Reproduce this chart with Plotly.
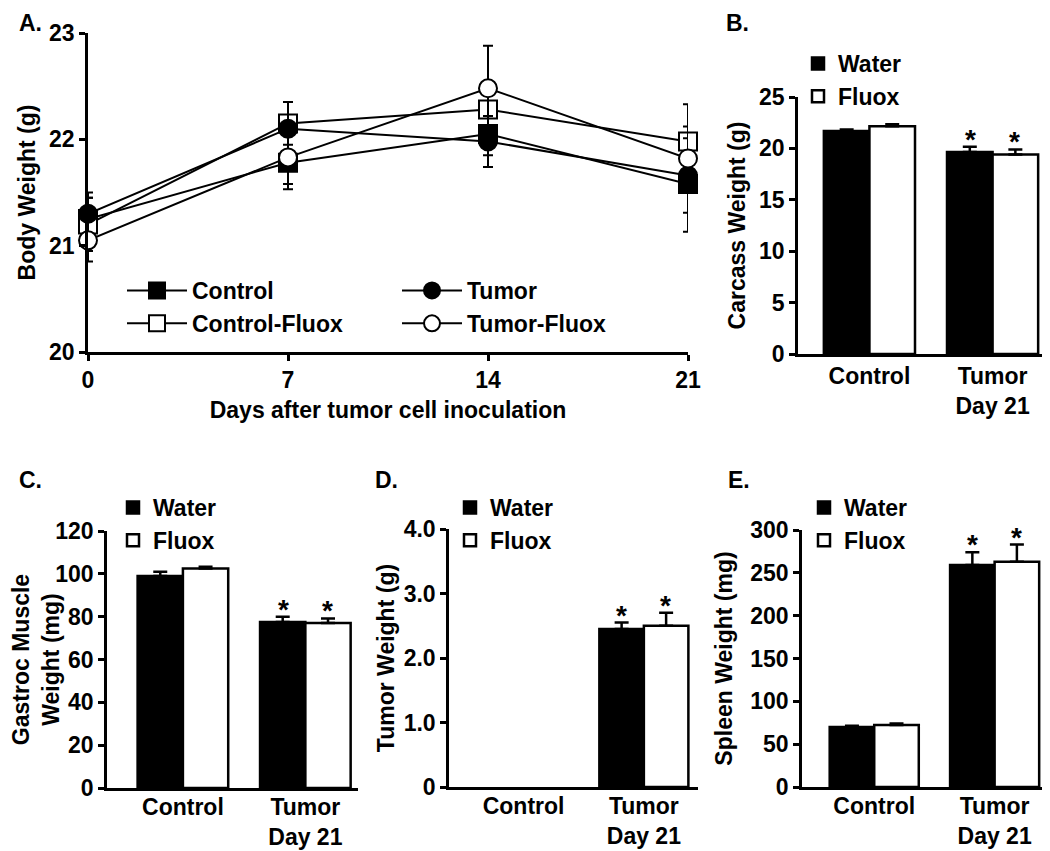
import plotly.graph_objects as go

# ---- panel A: body weight over time ----
days = [0, 7, 14, 21]
control = [21.25, 21.78, 22.05, 21.58]
control_err = [0.2, 0.25, 0.2, 0.45]
control_fluox = [21.2, 22.15, 22.28, 21.98]
control_fluox_err = [0.25, 0.2, 0.2, 0.35]
tumor = [21.3, 22.1, 21.98, 21.66]
tumor_err = [0.2, 0.25, 0.24, 0.35]
tumor_fluox = [21.05, 21.83, 22.48, 21.82]
tumor_fluox_err = [0.2, 0.25, 0.4, 0.3]

# ---- panels B-E: day 21 weights ----
groups = ["Control", "Tumor<br>Day 21"]
carcass_water = [21.7, 19.65]
carcass_water_err = [0.15, 0.5]
carcass_fluox = [22.15, 19.4]
carcass_fluox_err = [0.2, 0.5]
gastroc_water = [99, 77.5]
gastroc_water_err = [2, 2.5]
gastroc_fluox = [102.5, 77]
gastroc_fluox_err = [0.8, 2.2]
tumorwt_water = [None, 2.45]
tumorwt_water_err = [0, 0.1]
tumorwt_fluox = [None, 2.5]
tumorwt_fluox_err = [0, 0.2]
spleen_water = [70, 259]
spleen_water_err = [1.5, 15]
spleen_fluox = [72.5, 263]
spleen_fluox_err = [1.5, 20]

FONT = dict(family="Liberation Sans", size=23, color="black", weight="bold")
LW = 2.5

# the page puts the plot 8px in from the corner, so size the figure to fit the window
W, H, OFF = 1042, 843, 8


def fx(px):
    return (px - OFF) / W


def fy(py):
    return 1 - (py - OFF) / H


fig = go.Figure()

line_series = [
    ("Control", control, control_err, "square", "black", "legend"),
    ("Control-Fluox", control_fluox, control_fluox_err, "square", "white", "legend"),
    ("Tumor", tumor, tumor_err, "circle", "black", "legend2"),
    ("Tumor-Fluox", tumor_fluox, tumor_fluox_err, "circle", "white", "legend2"),
]
for name, vals, err, sym, fill, leg in line_series:
    fig.add_trace(go.Scatter(
        x=days, y=vals, name=name, mode="lines+markers",
        line=dict(color="black", width=2),
        marker=dict(symbol=sym, size=18, color=fill, line=dict(color="black", width=2)),
        error_y=dict(type="data", array=err, color="black", thickness=2, width=5),
        cliponaxis=False, legend=leg, xaxis="x", yaxis="y",
    ))

bar_panels = [
    ("x2", "y2", "legend3", carcass_water, carcass_water_err, carcass_fluox, carcass_fluox_err),
    ("x3", "y3", "legend4", gastroc_water, gastroc_water_err, gastroc_fluox, gastroc_fluox_err),
    ("x4", "y4", "legend5", tumorwt_water, tumorwt_water_err, tumorwt_fluox, tumorwt_fluox_err),
    ("x5", "y5", "legend6", spleen_water, spleen_water_err, spleen_fluox, spleen_fluox_err),
]
for xa, ya, leg, w, we, f, fe in bar_panels:
    for name, vals, err, fill in [("Water", w, we, "black"), ("Fluox", f, fe, "white")]:
        fig.add_trace(go.Bar(
            x=groups, y=vals, name=name, xaxis=xa, yaxis=ya, legend=leg,
            marker=dict(color=fill, line=dict(color="black", width=LW)),
            error_y=dict(type="data", symmetric=False, array=err, arrayminus=[0, 0],
                         color="black", thickness=LW, width=7),
        ))
    # significance stars on the tumor group
    for vals, err, shift in [(w, we, -22), (f, fe, 22)]:
        fig.add_annotation(
            x=groups[1], y=vals[1] + err[1], xref=xa, yref=ya, text="*",
            showarrow=False, xshift=shift, yanchor="bottom", yshift=-10,
            font=dict(FONT, size=28),
        )

axis_common = dict(
    showline=True, linecolor="black", linewidth=LW, showgrid=False, zeroline=False,
    tickfont=FONT,
)
yax = dict(axis_common, ticks="outside", ticklen=6, tickwidth=LW, tickcolor="black")
xbar = dict(axis_common, ticks="", type="category")
xbar_low = dict(xbar, ticklabelstandoff=-3)

fig.update_layout(
    width=W, height=H,
    margin=dict(l=0, r=0, t=0, b=0, autoexpand=False),
    plot_bgcolor="white", paper_bgcolor="white",
    font=FONT,
    barmode="group", bargap=0.26, bargroupgap=0,
    xaxis=dict(axis_common, domain=[fx(88), fx(688)], range=[0, 21],
               tickvals=days, ticks="outside", ticklen=6, tickwidth=LW, tickcolor="black",
               title=dict(text="Days after tumor cell inoculation", standoff=10, font=FONT)),
    yaxis=dict(yax, domain=[fy(352), fy(33)], range=[20, 23], dtick=1,
               title=dict(text="Body Weight (g)", standoff=8, font=FONT)),
    xaxis2=dict(xbar, domain=[fx(798), fx(1048)], range=[-0.58, 1.45], anchor="y2"),
    yaxis2=dict(yax, domain=[fy(354), fy(97)], range=[0, 25], dtick=5, anchor="x2",
                title=dict(text="Carcass Weight (g)", standoff=8, font=FONT)),
    xaxis3=dict(xbar_low, domain=[fx(107), fx(358)], range=[-0.62, 1.43], anchor="y3"),
    yaxis3=dict(yax, domain=[fy(788), fy(531)], range=[0, 120], dtick=20, anchor="x3",
                title=dict(text="Gastroc Muscle<br>Weight (mg)", standoff=6, font=FONT)),
    xaxis4=dict(xbar_low, domain=[fx(449), fx(698)], range=[-0.62, 1.45], anchor="y4"),
    yaxis4=dict(yax, domain=[fy(787), fy(529)], range=[0, 4], anchor="x4",
                tickvals=[0, 1, 2, 3, 4], ticktext=["0", "1.0", "2.0", "3.0", "4.0"],
                title=dict(text="Tumor Weight (g)", standoff=3, font=FONT)),
    xaxis5=dict(xbar_low, domain=[fx(802), 1.0], range=[-0.6, 1.46], anchor="y5"),
    yaxis5=dict(yax, domain=[fy(787), fy(530)], range=[0, 300], dtick=50, anchor="x5",
                title=dict(text="Spleen Weight (mg)", standoff=12, font=FONT)),
)

leg_common = dict(bgcolor="rgba(0,0,0,0)", font=FONT,
                  xanchor="left", yanchor="top", orientation="v", tracegroupgap=0)
fig.update_layout(
    legend=dict(leg_common, x=fx(122), y=fy(269), itemwidth=60),
    legend2=dict(leg_common, x=fx(397), y=fy(269), itemwidth=60),
    legend3=dict(leg_common, x=fx(798), y=fy(42)),
    legend4=dict(leg_common, x=fx(113), y=fy(486)),
    legend5=dict(leg_common, x=fx(450), y=fy(486)),
    legend6=dict(leg_common, x=fx(804), y=fy(486)),
)

# panel letters; the top row is pinned to the page top so nothing is clipped
for txt, px in [("A.", 17), ("B.", 724)]:
    fig.add_annotation(x=fx(px), y=1, xref="paper", yref="paper", text=txt,
                       showarrow=False, xanchor="left", yanchor="top", font=FONT)
for txt, px in [("C.", 17), ("D.", 373), ("E.", 726)]:
    fig.add_annotation(x=fx(px), y=fy(480), xref="paper", yref="paper", text=txt,
                       showarrow=False, xanchor="left", yanchor="middle", font=FONT)

fig.write_html("out.html")
